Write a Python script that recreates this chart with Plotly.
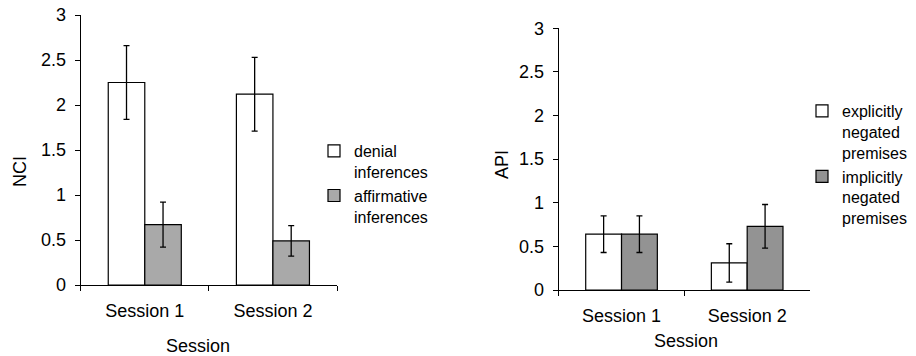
import plotly.graph_objects as go

categories = ["Session 1", "Session 2"]

# Left panel: NCI
nci_denial = [2.25, 2.12]
nci_denial_err = [0.41, 0.41]
nci_affirm = [0.67, 0.49]
nci_affirm_err = [0.25, 0.17]

# Right panel: API
api_explicit = [0.64, 0.31]
api_explicit_err = [0.21, 0.22]
api_implicit = [0.64, 0.73]
api_implicit_err = [0.21, 0.25]

y_ticks = [0, 0.5, 1, 1.5, 2, 2.5, 3]
y_ticktext = ["0", "0.5", "1", "1.5", "2", "2.5", "3"]

FONT = "Liberation Sans, Arial, Helvetica, sans-serif"
W, H = 916, 356


def px_x(v):
    return v / W


def px_y(v):
    return 1 - v / H


err_style = dict(type="data", color="black", thickness=1.3, width=3)
line_style = dict(color="black", width=1.2)

fig = go.Figure()
fig.add_trace(go.Bar(x=categories, y=nci_denial, name="denial<br>inferences",
                     marker=dict(color="white", line=line_style),
                     error_y=dict(array=nci_denial_err, **err_style),
                     xaxis="x", yaxis="y", legend="legend"))
fig.add_trace(go.Bar(x=categories, y=nci_affirm, name="affirmative<br>inferences",
                     marker=dict(color="#a9a9a9", line=line_style),
                     error_y=dict(array=nci_affirm_err, **err_style),
                     xaxis="x", yaxis="y", legend="legend"))
fig.add_trace(go.Bar(x=categories, y=api_explicit, name="explicitly<br>negated<br>premises",
                     marker=dict(color="white", line=line_style),
                     error_y=dict(array=api_explicit_err, **err_style),
                     xaxis="x2", yaxis="y2", legend="legend2"))
fig.add_trace(go.Bar(x=categories, y=api_implicit, name="implicitly<br>negated<br>premises",
                     marker=dict(color="#939393", line=line_style),
                     error_y=dict(array=api_implicit_err, **err_style),
                     xaxis="x2", yaxis="y2", legend="legend2"))

xaxis_common = dict(showline=True, linecolor="black", linewidth=1.2, ticks="outside",
                    tickson="boundaries", ticklen=5, tickcolor="black", tickwidth=1.2,
                    showgrid=False, zeroline=False, ticklabelstandoff=9, automargin=False,
                    tickfont=dict(family=FONT, size=18, color="black"))
yaxis_common = dict(showline=True, linecolor="black", linewidth=1.2, ticks="outside",
                    ticklen=5, tickcolor="black", tickwidth=1.2, showgrid=False,
                    zeroline=False, range=[0, 3], tickvals=y_ticks, ticktext=y_ticktext,
                    ticklabelstandoff=5, automargin=False,
                    tickfont=dict(family=FONT, size=18, color="black"))

legend_common = dict(font=dict(family=FONT, size=16, color="black"), valign="top",
                     bgcolor="rgba(0,0,0,0)", itemwidth=30, tracegroupgap=4,
                     xanchor="left", yanchor="top")

title_font = dict(family=FONT, size=18, color="black")

fig.update_layout(
    width=W, height=H,
    margin=dict(l=0, r=0, t=0, b=0, pad=0, autoexpand=False),
    plot_bgcolor="white", paper_bgcolor="white",
    barmode="group", bargap=0.43, bargroupgap=0,
    font=dict(family=FONT, size=16, color="black"),
    xaxis=dict(domain=[px_x(80.7), px_x(337)], anchor="y", **xaxis_common),
    yaxis=dict(domain=[px_y(285), px_y(15)], anchor="x", **yaxis_common),
    xaxis2=dict(domain=[px_x(558.7), px_x(810)], anchor="y2", **xaxis_common),
    yaxis2=dict(domain=[px_y(290), px_y(28.3)], anchor="x2", **yaxis_common),
    legend=dict(x=px_x(314), y=px_y(134), **legend_common),
    legend2=dict(x=px_x(802), y=px_y(94), **legend_common),
    annotations=[
        dict(text="NCI", textangle=-90, x=px_x(20), y=px_y(172), xref="paper", yref="paper",
             xanchor="center", yanchor="middle", showarrow=False, font=title_font),
        dict(text="Session", x=px_x(198), y=px_y(346), xref="paper", yref="paper",
             xanchor="center", yanchor="middle", showarrow=False, font=title_font),
        dict(text="API", textangle=-90, x=px_x(502), y=px_y(165), xref="paper", yref="paper",
             xanchor="center", yanchor="middle", showarrow=False, font=title_font),
        dict(text="Session", x=px_x(686), y=px_y(341), xref="paper", yref="paper",
             xanchor="center", yanchor="middle", showarrow=False, font=title_font),
    ],
)

fig.write_html("out.html", config={"displayModeBar": False},
               post_script="document.body.style.margin='0';")
